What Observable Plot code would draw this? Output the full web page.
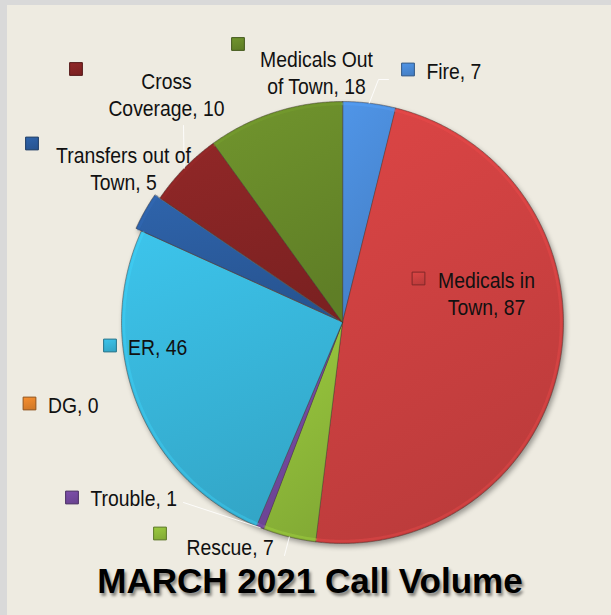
<!DOCTYPE html>
<html><head><meta charset="utf-8">
<script src="https://cdn.jsdelivr.net/npm/d3@7"></script>
<script src="https://cdn.jsdelivr.net/npm/@observablehq/plot@0.6"></script>
<style>
html,body{margin:0;padding:0;background:#EEEBE1;width:611px;height:615px;overflow:hidden;font-family:"Liberation Sans",Arial,sans-serif;}
#chart{position:absolute;left:0;top:0;}
#strip-left{position:absolute;left:0;top:0;width:7px;height:615px;background:#D9D9D9;}
#strip-top{position:absolute;left:0;top:0;width:611px;height:5px;background:#D9D9D9;}
#title{position:absolute;left:9px;top:563px;width:602px;text-align:center;font:bold 35px/35px "Liberation Sans",Arial,sans-serif;letter-spacing:0;color:#000;text-shadow:2px 3px 3px rgba(0,0,0,0.45);margin:0;}
</style></head><body>
<div id="chart"></div>
<div id="strip-left"></div><div id="strip-top"></div>
<h1 id="title">MARCH 2021 Call Volume</h1>
<script>
// ---- data ----
const categories = ["Fire","Medicals in Town","Rescue","Trouble","DG","ER","Transfers out of Town","Cross Coverage","Medicals Out of Town"];
const values = [7, 87, 7, 1, 0, 46, 5, 10, 18];
const labels = ["Fire, 7","Medicals in\nTown, 87","Rescue, 7","Trouble, 1","DG, 0","ER, 46","Transfers out of\nTown, 5","Cross\nCoverage, 10","Medicals Out\nof Town, 18"];
// ---- style ----
const colors = ["#4A8AD6","#CC4040","#8FBB3A","#74499E","#E5842C","#38B6DA","#2B5C9E","#862424","#688A2A"];
// ---- layout (pixels) ----
const center = [342, 322], radius = 221;
const explode = [0, 0, 0, 0, 0, 0, 6, 0, 0];
const keyPos = [[407.5,69],[418,278],[159.5,533],[71.5,497],[29,403],[109.5,345],[31.5,143],[75.5,68.5],[237.5,43.5]];
const textPos = [[426,70],[486,292],[186,545.5],[90,496.5],[47.5,403.5],[127.5,345.5],[123,167.5],[166,93],[316,71.5]];
const textAnchor = ["start","middle","start","start","start","start","middle","middle","middle"];
const leaderEnds = [[[378,79],[388,79]], null, [[284,555]], [[183,502]], null, null, null, [[183,125]], null];

const arcs = d3.pie().sort(null).value(d => d)(values);
const slicePts = [], rimPts = [];
arcs.forEach((a, i) => {
  if (values[i] <= 0) return;
  const mid = (a.startAngle + a.endAngle) / 2;
  const ox = center[0] + explode[i] * Math.sin(mid), oy = center[1] - explode[i] * Math.cos(mid);
  slicePts.push({i, x: ox, y: oy, fill: `url(#grad${i})`});
  const n = Math.max(2, Math.ceil((a.endAngle - a.startAngle) / 0.008));
  for (let k = 0; k <= n; k++) {
    const t = a.startAngle + (a.endAngle - a.startAngle) * k / n;
    slicePts.push({i, x: ox + radius * Math.sin(t), y: oy - radius * Math.cos(t), fill: `url(#grad${i})`});
    rimPts.push({i, x: ox + (radius - 2.5) * Math.sin(t), y: oy - (radius - 2.5) * Math.cos(t), stroke: d3.color(colors[i]).brighter(0.5).formatHex()});
  }
});
const leaderPts = [];
arcs.forEach((a, i) => {
  if (!leaderEnds[i]) return;
  const mid = (a.startAngle + a.endAngle) / 2;
  leaderPts.push({i, x: center[0] + radius * Math.sin(mid), y: center[1] - radius * Math.cos(mid)});
  leaderEnds[i].forEach(p => leaderPts.push({i, x: p[0], y: p[1]}));
});
const idx = d3.range(categories.length);

const defsMark = () => {
  const defs = d3.create("svg:defs");
  colors.forEach((c, i) => {
    const g = defs.append("linearGradient").attr("id", "grad" + i)
      .attr("x1", 0.2).attr("y1", 0).attr("x2", 0.5).attr("y2", 1);
    g.append("stop").attr("offset", "0%").attr("stop-color", d3.color(c).brighter(0.2).formatHex());
    g.append("stop").attr("offset", "100%").attr("stop-color", d3.color(c).darker(0.25).formatHex());
  });
  return defs.node();
};

const chart = Plot.plot({
  width: 611, height: 560, margin: 0,
  x: {domain: [0, 611], range: [0, 611], axis: null},
  y: {domain: [0, 560], range: [0, 560], axis: null},
  color: {type: "identity"},
  style: {background: "transparent", fontFamily: "'Liberation Sans', Arial, sans-serif"},
  marks: [
    defsMark,
    Plot.line(slicePts, {x: "x", y: "y", z: "i", fill: "fill", stroke: "#3a2e2a", strokeOpacity: 0.55, strokeWidth: 0.8, curve: "linear-closed"}),
    Plot.line(rimPts, {x: "x", y: "y", z: "i", stroke: "stroke", strokeOpacity: 0.35, strokeWidth: 2.5}),
    Plot.line(leaderPts, {x: "x", y: "y", z: "i", stroke: "#ffffff", strokeOpacity: 0.85, strokeWidth: 1}),
    Plot.dot(idx, {x: i => keyPos[i][0], y: i => keyPos[i][1], symbol: "square", r: 7.2, fill: i => `url(#grad${i})`, stroke: i => d3.color(colors[i]).darker(1.3).formatHex(), strokeWidth: 1}),
    Plot.text(idx.filter(i => textAnchor[i] === "start"), {x: i => textPos[i][0], y: i => textPos[i][1], text: i => labels[i], textAnchor: "start", fontSize: 22, lineHeight: 1.23, fill: "#111"}),
    Plot.text(idx.filter(i => textAnchor[i] === "middle"), {x: i => textPos[i][0], y: i => textPos[i][1], text: i => labels[i], textAnchor: "middle", fontSize: 22, lineHeight: 1.23, fill: "#111"})
  ]
});
const sliceGroup = chart.querySelector('g[aria-label="line"]');
if (sliceGroup) sliceGroup.style.filter = "drop-shadow(2px 3px 2.5px rgba(0,0,0,0.35))";
chart.querySelectorAll('g[aria-label="text"] text').forEach(t => {
  const tr = t.getAttribute("transform") || "";
  t.setAttribute("transform", tr + " scale(0.88,1)");
});
document.getElementById("chart").appendChild(chart);
</script>
</body></html>
